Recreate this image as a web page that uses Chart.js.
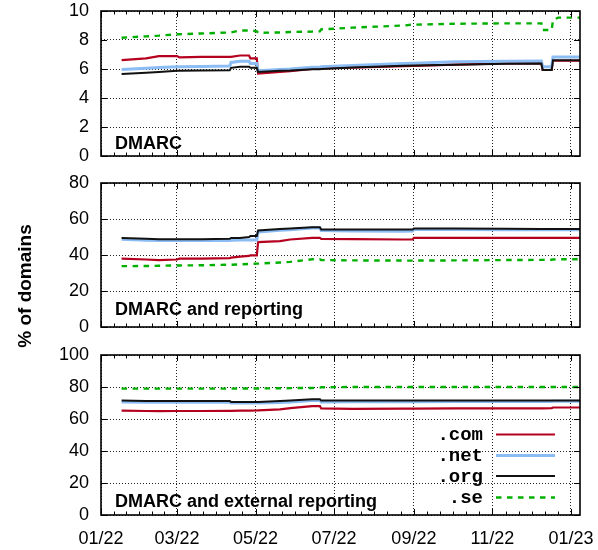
<!DOCTYPE html>
<html><head><meta charset="utf-8">
<script src="https://cdn.jsdelivr.net/npm/chart.js@4.4.1/dist/chart.umd.min.js"></script>
<style>
html,body{margin:0;padding:0;background:#fff;}
#wrap{position:relative;width:598px;height:550px;overflow:hidden;}
#wrap canvas{position:absolute;left:0;top:0;}
</style></head><body>
<div id="wrap">
<canvas id="c1" width="598" height="550"></canvas>
<canvas id="c2" width="598" height="550"></canvas>
<canvas id="c3" width="598" height="550"></canvas>
</div>
<script>
// ---------- data ----------
const dates = ['2022-01-17','2022-02-05','2022-02-15','2022-03-01','2022-03-03','2022-03-20','2022-04-11','2022-04-12','2022-04-19','2022-04-26',
               '2022-04-27','2022-05-02','2022-05-03','2022-05-20','2022-05-28','2022-06-14','2022-06-20','2022-06-21','2022-07-15','2022-08-24',
               '2022-08-31','2022-09-01','2022-10-03','2022-11-12','2022-12-09','2022-12-10','2022-12-17','2022-12-18','2022-12-22','2023-01-08'];
const seriesNames = ['.com', '.net', '.org', '.se'];
const xTickDates = ['2022-01-01','2022-03-01','2022-05-01','2022-07-01','2022-09-01','2022-11-01','2023-01-01'];
const xTickLabels = ['01/22','03/22','05/22','07/22','09/22','11/22','01/23'];
const xMinDate = '2022-01-01';
const xMaxDate = '2023-01-08';

// Panel 1: DMARC
const dmarcCom = [6.61,6.73,6.89,6.89,6.80,6.84,6.84,6.84,6.93,6.93,6.73,6.73,5.69,5.80,5.85,6.00,6.02,6.04,6.10,6.20,6.22,6.22,6.30,6.38,6.40,5.93,5.93,6.57,6.57,6.57];
const dmarcNet = [5.97,6.05,6.10,6.15,6.15,6.18,6.20,6.45,6.54,6.54,6.38,6.38,5.88,5.97,6.00,6.12,6.14,6.15,6.25,6.38,6.40,6.40,6.50,6.54,6.55,6.16,6.16,6.83,6.83,6.83];
const dmarcOrg = [5.65,5.74,5.80,5.88,5.88,5.90,5.92,6.08,6.15,6.15,6.08,6.08,5.80,5.88,5.90,5.98,5.99,6.00,6.10,6.22,6.24,6.24,6.30,6.36,6.38,5.93,5.93,6.60,6.60,6.60];
const dmarcSe  = [8.16,8.25,8.30,8.40,8.40,8.45,8.52,8.52,8.66,8.66,8.66,8.60,8.50,8.52,8.55,8.58,8.60,8.73,8.85,9.00,9.06,9.06,9.12,9.15,9.15,8.69,8.69,9.38,9.54,9.54];
// Panel 2: DMARC and reporting
const repCom = [38.0,37.5,37.2,37.5,38.0,38.0,38.3,38.5,39.1,39.5,39.8,39.8,47.2,47.7,48.6,49.5,49.5,49.0,48.8,48.6,48.6,49.5,49.5,49.5,49.5,49.5,49.5,49.5,49.5,49.5];
const repNet = [48.8,48.2,48.0,48.0,48.0,48.0,48.1,48.2,48.3,48.3,48.3,48.3,52.8,53.8,54.0,55.0,55.0,53.6,53.4,53.2,53.3,54.1,54.1,54.0,54.0,54.0,54.0,54.0,54.0,54.0];
const repOrg = [49.5,49.0,48.8,48.8,48.8,48.8,49.0,49.5,49.5,50.0,50.5,50.5,53.6,54.4,54.7,55.4,55.4,54.1,54.1,54.1,54.1,54.7,54.7,54.6,54.5,54.5,54.5,54.5,54.5,54.5];
const repSe  = [33.8,33.9,34.0,34.2,34.2,34.3,34.6,34.6,34.8,35.0,35.0,35.2,35.2,35.8,36.2,37.6,37.6,37.2,37.0,36.9,36.9,36.9,37.0,37.2,37.3,37.3,37.4,37.5,37.6,37.6];
// Panel 3: DMARC and external reporting
const extCom = [65.2,65.0,64.9,65.0,65.0,65.0,65.1,65.1,65.2,65.2,65.2,65.3,65.4,66.0,66.8,68.0,68.0,66.6,66.3,66.5,66.5,66.5,66.6,66.6,66.6,66.6,66.7,67.2,67.2,67.2];
const extNet = [70.7,70.5,70.5,70.5,70.5,70.5,70.4,70.0,70.0,70.0,70.0,70.0,70.0,70.3,70.6,71.6,71.6,70.7,70.8,70.8,70.8,70.8,70.9,70.9,71.0,71.0,71.0,71.1,71.1,71.1];
const extOrg = [71.5,71.3,71.3,71.3,71.3,71.3,71.2,70.7,70.7,70.7,70.7,70.7,70.7,71.2,71.5,72.4,72.4,71.5,71.5,71.5,71.5,71.5,71.5,71.5,71.5,71.5,71.5,71.6,71.6,71.6];
const extSe  = [79.0,79.0,79.0,79.0,79.0,79.0,79.0,79.0,79.1,79.1,79.1,79.1,79.1,79.2,79.3,79.4,79.6,79.8,80.0,80.0,80.0,80.0,80.0,80.0,80.0,80.0,80.0,80.0,80.0,80.0];

const panelTitles = ['DMARC', 'DMARC and reporting', 'DMARC and external reporting'];
const yMaxes = [10, 80, 100];
const ySteps = [2, 20, 20];
const yAxisTitle = '% of domains';

// ---------- styles ----------
const seriesStyles = [
  {color: '#b5001f', width: 2.2, dash: [], order: 4},
  {color: '#8cbcf4', width: 3, dash: [], order: 3},
  {color: '#111111', width: 2, dash: [], order: 2},
  {color: '#00b000', width: 2.4, dash: [5.5, 5.5], order: 1}
];
const layoutBoxes = [
  {top: 11, bottom: 394, xHeight: 0, titleY: 148.5},
  {top: 183, bottom: 223, xHeight: 0, titleY: 315},
  {top: 355, bottom: 0, xHeight: 35, titleY: 507}
];

const dayMs = 86400000;
const base = Date.UTC(2022, 0, 1);
function toDay(s) { const p = s.split('-').map(Number); return (Date.UTC(p[0], p[1]-1, p[2]) - base) / dayMs; }

Chart.defaults.font.family = '"Liberation Sans", Arial, Helvetica, sans-serif';
Chart.defaults.font.size = 18;
Chart.defaults.color = '#000';

const framePlugin = {
  id: 'frame',
  afterDatasetsDraw(chart, args, opts) {
    const {ctx, chartArea: a, scales: {x, y}} = chart;
    ctx.save();
    ctx.strokeStyle = '#000';
    ctx.lineWidth = 1;
    ctx.beginPath();
    const majors = x.ticks.map(t => t.value);
    majors.forEach(v => {
      const px = Math.round(x.getPixelForValue(v)) + 0.5;
      ctx.moveTo(px, a.bottom); ctx.lineTo(px, a.bottom - 6);
      ctx.moveTo(px, a.top); ctx.lineTo(px, a.top + 6);
    });
    for (let i = 0; i < majors.length - 1; i++) {
      for (let k = 1; k < 6; k++) {
        const v = majors[i] + (majors[i+1] - majors[i]) * k / 6;
        const px = Math.round(x.getPixelForValue(v)) + 0.5;
        ctx.moveTo(px, a.bottom); ctx.lineTo(px, a.bottom - 3.5);
        ctx.moveTo(px, a.top); ctx.lineTo(px, a.top + 3.5);
      }
    }
    y.ticks.forEach(t => {
      const py = Math.round(y.getPixelForValue(t.value)) + 0.5;
      ctx.moveTo(a.left, py); ctx.lineTo(a.left + 6, py);
      ctx.moveTo(a.right, py); ctx.lineTo(a.right - 6, py);
    });
    ctx.stroke();
    ctx.lineWidth = 1.6;
    ctx.strokeRect(a.left, a.top, a.right - a.left, a.bottom - a.top);
    // panel title
    ctx.fillStyle = '#000';
    ctx.font = 'bold 18px "Liberation Sans", Arial, sans-serif';
    ctx.textAlign = 'left';
    ctx.textBaseline = 'alphabetic';
    ctx.fillText(opts.title, 115, opts.titleY);
    // y axis title
    if (opts.yTitle) {
      ctx.save();
      ctx.translate(31, 286);
      ctx.rotate(-Math.PI / 2);
      ctx.textAlign = 'center';
      ctx.font = 'bold 19px "Liberation Sans", Arial, sans-serif';
      ctx.fillText(opts.yTitle, 0, 0);
      ctx.restore();
    }
    // legend
    if (opts.legend) {
      const rows = [434.5, 455.5, 476, 497.5];
      ctx.font = 'bold 19px "Liberation Mono", "Courier New", monospace';
      ctx.textAlign = 'right';
      ctx.textBaseline = 'middle';
      chart.data.datasets.forEach((ds, i) => {
        const yy = rows[i];
        ctx.fillStyle = '#000';
        ctx.fillText(ds.label, 483, yy + 1);
        ctx.save();
        ctx.strokeStyle = ds.borderColor;
        ctx.lineWidth = ds.borderWidth;
        ctx.setLineDash(ds.borderDash || []);
        ctx.beginPath();
        ctx.moveTo(496, yy); ctx.lineTo(555, yy);
        ctx.stroke();
        ctx.restore();
      });
    }
    ctx.restore();
  }
};

function makePanel(id, idx, seriesVals) {
  const box = layoutBoxes[idx];
  const xs = dates.map(toDay);
  const datasets = seriesVals.map((vals, i) => ({
    label: seriesNames[i],
    data: vals.map((v, j) => ({x: xs[j], y: v})),
    borderColor: seriesStyles[i].color,
    borderWidth: seriesStyles[i].width,
    borderDash: seriesStyles[i].dash,
    order: seriesStyles[i].order,
    pointRadius: 0,
    tension: 0,
    fill: false
  }));
  const isBottom = idx === 2;
  return new Chart(document.getElementById(id), {
    type: 'line',
    data: {datasets},
    options: {
      responsive: false,
      animation: false,
      devicePixelRatio: 1,
      layout: {padding: {left: 0, right: 18, top: box.top, bottom: box.bottom}},
      plugins: {
        legend: {display: false},
        tooltip: {enabled: false},
        frame: {title: panelTitles[idx], titleY: box.titleY, yTitle: idx === 1 ? yAxisTitle : null, legend: isBottom}
      },
      scales: {
        x: {
          type: 'linear',
          min: toDay(xMinDate),
          max: toDay(xMaxDate),
          afterBuildTicks: s => { s.ticks = xTickDates.map(d => ({value: toDay(d)})); },
          afterFit: s => { s.height = box.xHeight; s.paddingLeft = 0; s.paddingRight = 0; },
          grid: {color: '#222', lineWidth: 1, drawTicks: false},
          border: {display: false, dash: [1, 2]},
          ticks: {
            display: isBottom,
            autoSkip: false,
            maxRotation: 0,
            padding: 13,
            font: {size: 18},
            callback: (v, i) => xTickLabels[i]
          }
        },
        y: {
          min: 0,
          max: yMaxes[idx],
          afterFit: s => { s.width = 101; s.paddingTop = 0; s.paddingBottom = 0; },
          grid: {color: '#222', lineWidth: 1, drawTicks: false},
          border: {display: false, dash: [1, 2]},
          ticks: {stepSize: ySteps[idx], padding: 12, font: {size: 18}}
        }
      }
    },
    plugins: [framePlugin]
  });
}

makePanel('c1', 0, [dmarcCom, dmarcNet, dmarcOrg, dmarcSe]);
makePanel('c2', 1, [repCom, repNet, repOrg, repSe]);
makePanel('c3', 2, [extCom, extNet, extOrg, extSe]);
</script>
</body></html>
